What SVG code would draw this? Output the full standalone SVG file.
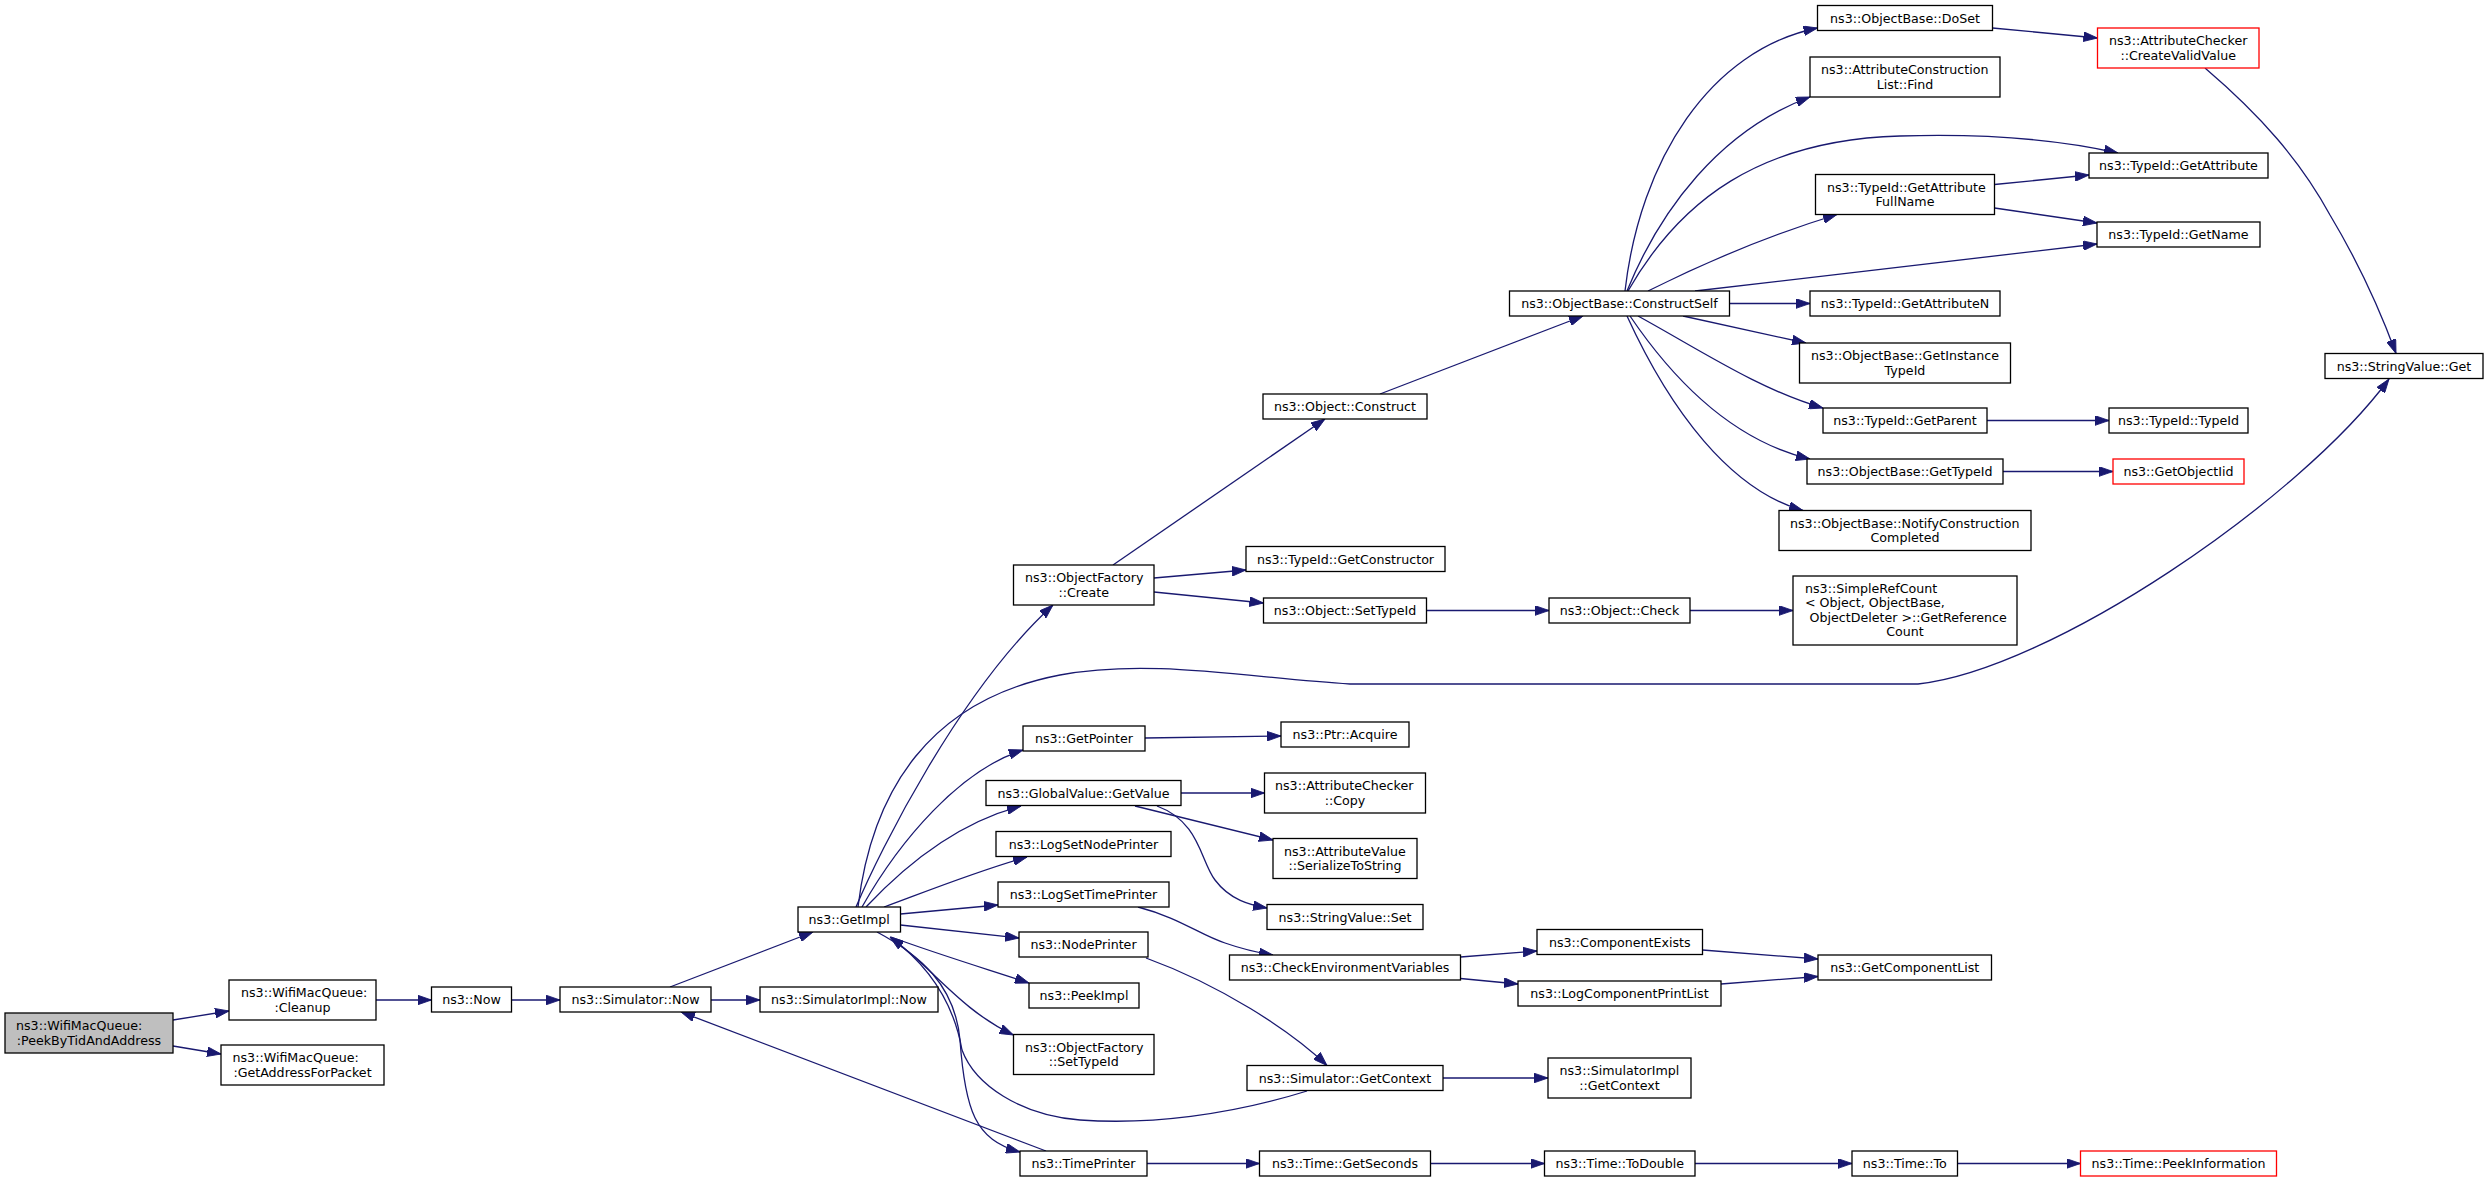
<svg xmlns="http://www.w3.org/2000/svg" width="2488" height="1183" viewBox="0 0 2488 1183">
<style>
.n rect{fill:#fff;stroke:#000;stroke-width:1.3}
.n.root rect{fill:#bfbfbf}
.n.red rect{stroke:#ff0000}
.n text{font-family:"DejaVu Sans",Verdana,sans-serif;font-size:12.65px;fill:#000}
.m{text-anchor:middle}
.e path{fill:none;stroke:#191970;stroke-width:1.3}
</style>
<defs>
<marker id="a" markerUnits="userSpaceOnUse" markerWidth="14" markerHeight="10" viewBox="0 0 13 9" refX="13" refY="4.5" orient="auto">
<path d="M0,0 L13,4.5 L0,9 z" fill="#191970" stroke="#191970" stroke-width="0.8"/>
</marker>
</defs>
<rect width="2488" height="1183" fill="#fff"/>
<g class="e" marker-end="url(#a)">
<path d="M173,1020 L229,1011" marker-end="url(#a)"/>
<path d="M173,1046 L221,1054" marker-end="url(#a)"/>
<path d="M376,1000 L431.5,1000" marker-end="url(#a)"/>
<path d="M511.5,1000 L560,1000" marker-end="url(#a)"/>
<path d="M711,1000 L760,1000" marker-end="url(#a)"/>
<path d="M670,987 L813,932" marker-end="url(#a)"/>
<path d="M1046,1151 L681,1012" marker-end="url(#a)"/>
<path d="M856,907 C880,850 960,690 1053,605" marker-end="url(#a)"/>
<path d="M858,907 C872,790 930,700 1060,675 C1150,658 1250,678 1350,684 L1918,684 C2050,670 2300,500 2389,379" marker-end="url(#a)"/>
<path d="M862,907 C900,840 960,770 1023,750" marker-end="url(#a)"/>
<path d="M866,907 C910,860 960,822 1021,806" marker-end="url(#a)"/>
<path d="M884,907 C930,890 980,870 1027,857" marker-end="url(#a)"/>
<path d="M900.5,914 L998,905" marker-end="url(#a)"/>
<path d="M900.5,925 L1019,938" marker-end="url(#a)"/>
<path d="M891,937 C940,955 990,970 1029,983" marker-end="url(#a)"/>
<path d="M891,938 C930,965 960,1010 1013.5,1035" marker-end="url(#a)"/>
<path d="M877,932 C920,955 955,985 960,1040 C965,1110 975,1140 1020,1152" marker-end="url(#a)"/>
<path d="M1307,1091 C1230,1115 1150,1125 1080,1120 C1020,1115 975,1085 962,1050 C955,1010 935,970 890,937" marker-end="url(#a)"/>
<path d="M1154,578 L1246,570" marker-end="url(#a)"/>
<path d="M1154,592 L1263.5,603" marker-end="url(#a)"/>
<path d="M1113,565 L1325,419" marker-end="url(#a)"/>
<path d="M1426.5,610.5 L1549,610.5" marker-end="url(#a)"/>
<path d="M1690,610.5 L1793,610.5" marker-end="url(#a)"/>
<path d="M1145,738 L1281,736" marker-end="url(#a)"/>
<path d="M1181,793 L1264.5,793" marker-end="url(#a)"/>
<path d="M1135,806 L1273,840" marker-end="url(#a)"/>
<path d="M1157,806 C1200,822 1200,860 1215,880 C1230,900 1250,905 1267,908" marker-end="url(#a)"/>
<path d="M1138,907 C1180,918 1200,935 1225,943 C1245,950 1260,953 1273,955" marker-end="url(#a)"/>
<path d="M1146,958 C1220,985 1290,1030 1327,1065.5" marker-end="url(#a)"/>
<path d="M1460.5,957 L1537,951" marker-end="url(#a)"/>
<path d="M1460.5,978.5 L1518,984" marker-end="url(#a)"/>
<path d="M1702.5,950 L1818,959" marker-end="url(#a)"/>
<path d="M1721,984 L1818,976.5" marker-end="url(#a)"/>
<path d="M1443,1078 L1548,1078" marker-end="url(#a)"/>
<path d="M1147,1163.5 L1259.5,1163.5" marker-end="url(#a)"/>
<path d="M1430.5,1163.5 L1544.5,1163.5" marker-end="url(#a)"/>
<path d="M1695,1163.5 L1852,1163.5" marker-end="url(#a)"/>
<path d="M1957.5,1163.5 L2080.5,1163.5" marker-end="url(#a)"/>
<path d="M1380,394 L1583,316" marker-end="url(#a)"/>
<path d="M1625,291 C1640,160 1710,50 1817.5,28" marker-end="url(#a)"/>
<path d="M1627,291 C1660,210 1720,130 1810,97" marker-end="url(#a)"/>
<path d="M1628,291 C1680,200 1760,140 1900,136 C2000,133 2070,142 2118,153" marker-end="url(#a)"/>
<path d="M1648,291 C1700,265 1770,235 1837,214.5" marker-end="url(#a)"/>
<path d="M1695,291 L2097,244" marker-end="url(#a)"/>
<path d="M1729.5,303.5 L1810,303.5" marker-end="url(#a)"/>
<path d="M1683,316 L1806,343" marker-end="url(#a)"/>
<path d="M1638,316 C1700,350 1760,390 1823,408" marker-end="url(#a)"/>
<path d="M1630,316 C1670,375 1730,440 1810,459" marker-end="url(#a)"/>
<path d="M1627,316 C1670,410 1730,490 1803,510.5" marker-end="url(#a)"/>
<path d="M1992.5,28 L2097.5,38" marker-end="url(#a)"/>
<path d="M2205,68 C2260,115 2300,160 2330,215 C2360,265 2380,310 2396,353.5" marker-end="url(#a)"/>
<path d="M1994.5,184.5 L2089,175" marker-end="url(#a)"/>
<path d="M1994.5,208 L2097,223" marker-end="url(#a)"/>
<path d="M1987,420.5 L2109,420.5" marker-end="url(#a)"/>
<path d="M2003,471.5 L2113,471.5" marker-end="url(#a)"/>
</g>
<g id="n_peek" class="n root"><rect x="5" y="1013" width="168" height="40"/><text x="16" y="1030.25">ns3::WifiMacQueue:</text><text class="m" x="89" y="1044.75">:PeekByTidAndAddress</text></g>
<g id="n_cleanup" class="n"><rect x="229" y="980" width="147" height="40"/><text x="241" y="997.25">ns3::WifiMacQueue:</text><text class="m" x="302.5" y="1011.75">:Cleanup</text></g>
<g id="n_getaddr" class="n"><rect x="221" y="1045" width="163" height="40"/><text x="232.5" y="1062.25">ns3::WifiMacQueue:</text><text class="m" x="302.5" y="1076.75">:GetAddressForPacket</text></g>
<g id="n_now" class="n"><rect x="431.5" y="987" width="80" height="25"/><text class="m" x="471.5" y="1004">ns3::Now</text></g>
<g id="n_simnow" class="n"><rect x="560" y="987" width="151" height="25"/><text class="m" x="635.5" y="1004">ns3::Simulator::Now</text></g>
<g id="n_simimplnow" class="n"><rect x="760" y="987" width="178" height="25"/><text class="m" x="849" y="1004">ns3::SimulatorImpl::Now</text></g>
<g id="n_getimpl" class="n"><rect x="798" y="907" width="102.5" height="25"/><text class="m" x="849.25" y="924">ns3::GetImpl</text></g>
<g id="n_ofcreate" class="n"><rect x="1013.5" y="565" width="140.5" height="40"/><text x="1025" y="582.25">ns3::ObjectFactory</text><text class="m" x="1083.75" y="596.75">::Create</text></g>
<g id="n_getpointer" class="n"><rect x="1023" y="726" width="122" height="25"/><text class="m" x="1084" y="743">ns3::GetPointer</text></g>
<g id="n_gvgetvalue" class="n"><rect x="986" y="780.5" width="195" height="25"/><text class="m" x="1083.5" y="797.5">ns3::GlobalValue::GetValue</text></g>
<g id="n_logsetnode" class="n"><rect x="996" y="831.5" width="175" height="25"/><text class="m" x="1083.5" y="848.5">ns3::LogSetNodePrinter</text></g>
<g id="n_logsettime" class="n"><rect x="998" y="882" width="171" height="25"/><text class="m" x="1083.5" y="899">ns3::LogSetTimePrinter</text></g>
<g id="n_nodeprinter" class="n"><rect x="1019" y="932" width="129" height="25"/><text class="m" x="1083.5" y="949">ns3::NodePrinter</text></g>
<g id="n_peekimpl" class="n"><rect x="1029" y="983" width="110" height="25"/><text class="m" x="1084" y="1000">ns3::PeekImpl</text></g>
<g id="n_ofsettypeid" class="n"><rect x="1013.5" y="1034.5" width="140.5" height="40"/><text x="1025" y="1051.75">ns3::ObjectFactory</text><text class="m" x="1083.75" y="1066.25">::SetTypeId</text></g>
<g id="n_timeprinter" class="n"><rect x="1020" y="1151" width="127" height="25"/><text class="m" x="1083.5" y="1168">ns3::TimePrinter</text></g>
<g id="n_objconstruct" class="n"><rect x="1263" y="394" width="164" height="25"/><text class="m" x="1345" y="411">ns3::Object::Construct</text></g>
<g id="n_getconstructor" class="n"><rect x="1246" y="546.5" width="199" height="25"/><text class="m" x="1345.5" y="563.5">ns3::TypeId::GetConstructor</text></g>
<g id="n_objsettypeid" class="n"><rect x="1263.5" y="598" width="163" height="25"/><text class="m" x="1345" y="615">ns3::Object::SetTypeId</text></g>
<g id="n_ptracquire" class="n"><rect x="1281" y="722" width="128" height="25"/><text class="m" x="1345" y="739">ns3::Ptr::Acquire</text></g>
<g id="n_accopy" class="n"><rect x="1264.5" y="773" width="161" height="40"/><text x="1275" y="790.25">ns3::AttributeChecker</text><text class="m" x="1345" y="804.75">::Copy</text></g>
<g id="n_avser" class="n"><rect x="1273" y="838.5" width="144" height="40"/><text x="1284" y="855.75">ns3::AttributeValue</text><text class="m" x="1345" y="870.25">::SerializeToString</text></g>
<g id="n_svset" class="n"><rect x="1267" y="904.5" width="156" height="25"/><text class="m" x="1345" y="921.5">ns3::StringValue::Set</text></g>
<g id="n_checkenv" class="n"><rect x="1229.5" y="955" width="231" height="25"/><text class="m" x="1345" y="972">ns3::CheckEnvironmentVariables</text></g>
<g id="n_simgetctx" class="n"><rect x="1247" y="1065.5" width="196" height="25"/><text class="m" x="1345" y="1082.5">ns3::Simulator::GetContext</text></g>
<g id="n_getseconds" class="n"><rect x="1259.5" y="1151" width="171" height="25"/><text class="m" x="1345" y="1168">ns3::Time::GetSeconds</text></g>
<g id="n_constructself" class="n"><rect x="1509.5" y="291" width="220" height="25"/><text class="m" x="1619.5" y="308">ns3::ObjectBase::ConstructSelf</text></g>
<g id="n_objcheck" class="n"><rect x="1549" y="598" width="141" height="25"/><text class="m" x="1619.5" y="615">ns3::Object::Check</text></g>
<g id="n_compexists" class="n"><rect x="1537" y="929.5" width="165.5" height="25"/><text class="m" x="1619.75" y="946.5">ns3::ComponentExists</text></g>
<g id="n_logcomp" class="n"><rect x="1518" y="981" width="203" height="25"/><text class="m" x="1619.5" y="998">ns3::LogComponentPrintList</text></g>
<g id="n_simimplctx" class="n"><rect x="1548" y="1058" width="143" height="40"/><text x="1559.5" y="1075.25">ns3::SimulatorImpl</text><text class="m" x="1619.5" y="1089.75">::GetContext</text></g>
<g id="n_todouble" class="n"><rect x="1544.5" y="1151" width="150.5" height="25"/><text class="m" x="1619.75" y="1168">ns3::Time::ToDouble</text></g>
<g id="n_doset" class="n"><rect x="1817.5" y="5.5" width="175" height="25"/><text class="m" x="1905" y="22.5">ns3::ObjectBase::DoSet</text></g>
<g id="n_find" class="n"><rect x="1810" y="57" width="190" height="40"/><text x="1821" y="74.25">ns3::AttributeConstruction</text><text class="m" x="1905" y="88.75">List::Find</text></g>
<g id="n_fullname" class="n"><rect x="1815.5" y="174.5" width="179" height="40"/><text x="1827" y="191.75">ns3::TypeId::GetAttribute</text><text class="m" x="1905" y="206.25">FullName</text></g>
<g id="n_getattrn" class="n"><rect x="1810" y="291" width="190" height="25"/><text class="m" x="1905" y="308">ns3::TypeId::GetAttributeN</text></g>
<g id="n_instid" class="n"><rect x="1799.5" y="343" width="211" height="40"/><text x="1811" y="360.25">ns3::ObjectBase::GetInstance</text><text class="m" x="1905" y="374.75">TypeId</text></g>
<g id="n_getparent" class="n"><rect x="1823" y="408" width="164" height="25"/><text class="m" x="1905" y="425">ns3::TypeId::GetParent</text></g>
<g id="n_gettypeid" class="n"><rect x="1807" y="459" width="196" height="25"/><text class="m" x="1905" y="476">ns3::ObjectBase::GetTypeId</text></g>
<g id="n_notify" class="n"><rect x="1779" y="510.5" width="252" height="40"/><text x="1790" y="527.75">ns3::ObjectBase::NotifyConstruction</text><text class="m" x="1905" y="542.25">Completed</text></g>
<g id="n_simpleref" class="n"><rect x="1793" y="576" width="224" height="69"/><text x="1805" y="592.5">ns3::SimpleRefCount</text><text x="1805" y="607">&lt; Object, ObjectBase,</text><text x="1809.5" y="621.5">ObjectDeleter &gt;::GetReference</text><text class="m" x="1905" y="636">Count</text></g>
<g id="n_getcomplist" class="n"><rect x="1818" y="955" width="173.5" height="25"/><text class="m" x="1904.75" y="972">ns3::GetComponentList</text></g>
<g id="n_timeto" class="n"><rect x="1852" y="1151" width="105.5" height="25"/><text class="m" x="1904.75" y="1168">ns3::Time::To</text></g>
<g id="n_createvalid" class="n red"><rect x="2097.5" y="28" width="161.5" height="40"/><text x="2109" y="45.25">ns3::AttributeChecker</text><text class="m" x="2178.25" y="59.75">::CreateValidValue</text></g>
<g id="n_getattribute" class="n"><rect x="2089" y="153" width="179" height="25"/><text class="m" x="2178.5" y="170">ns3::TypeId::GetAttribute</text></g>
<g id="n_getname" class="n"><rect x="2097" y="222" width="163" height="25"/><text class="m" x="2178.5" y="239">ns3::TypeId::GetName</text></g>
<g id="n_typeidtypeid" class="n"><rect x="2109" y="408" width="139" height="25"/><text class="m" x="2178.5" y="425">ns3::TypeId::TypeId</text></g>
<g id="n_getobjectiid" class="n red"><rect x="2113" y="459" width="131" height="25"/><text class="m" x="2178.5" y="476">ns3::GetObjectIid</text></g>
<g id="n_svget" class="n"><rect x="2325" y="353.5" width="158" height="25"/><text class="m" x="2404" y="370.5">ns3::StringValue::Get</text></g>
<g id="n_peekinfo" class="n red"><rect x="2080.5" y="1151" width="196" height="25"/><text class="m" x="2178.5" y="1168">ns3::Time::PeekInformation</text></g>
</svg>
